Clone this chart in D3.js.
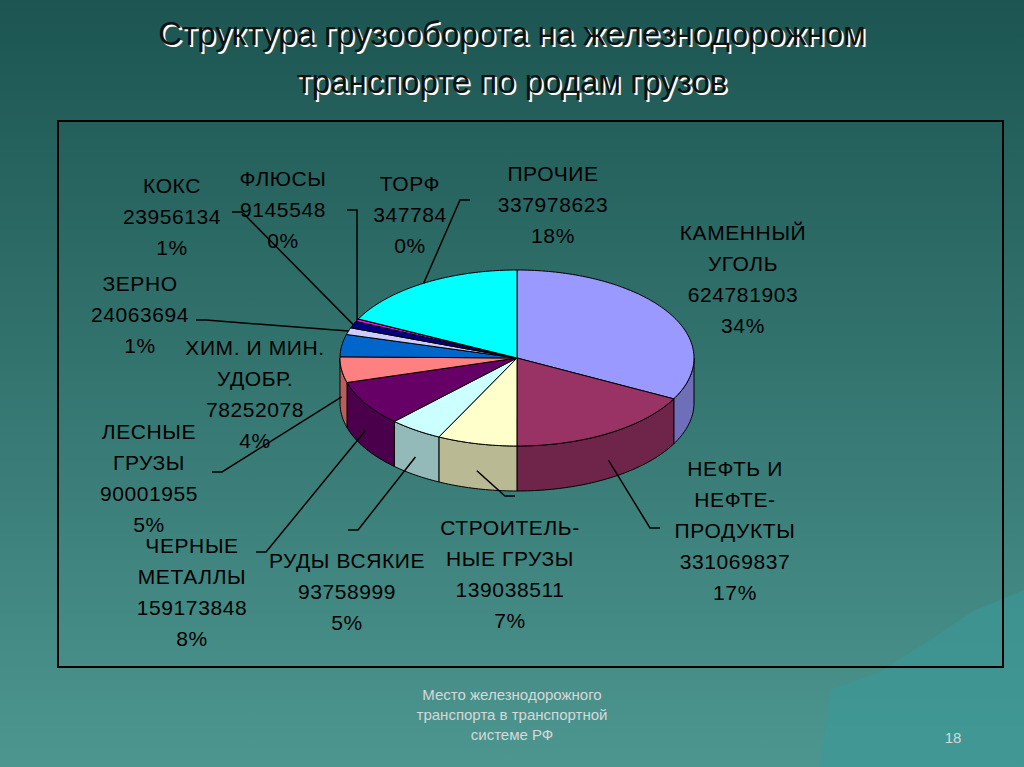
<!DOCTYPE html><html><head><meta charset="utf-8"><script src="https://cdn.jsdelivr.net/npm/d3@7"></script>
<style>body{margin:0;overflow:hidden}</style></head><body><svg id="c" width="1024" height="767"></svg><script>
const categories=["КАМЕННЫЙ УГОЛЬ","НЕФТЬ И НЕФТЕ-ПРОДУКТЫ","СТРОИТЕЛЬ-НЫЕ ГРУЗЫ","РУДЫ ВСЯКИЕ","ЧЕРНЫЕ МЕТАЛЛЫ","ЛЕСНЫЕ ГРУЗЫ","ХИМ. И МИН. УДОБР.","ЗЕРНО","КОКС","ФЛЮСЫ","ТОРФ","ПРОЧИЕ"];
const values=[624781903,331069837,139038511,93758999,159173848,90001955,78252078,24063694,23956134,9145548,347784,337978623];
const percents=["34%","17%","7%","5%","8%","5%","4%","1%","1%","0%","0%","18%"];
const labelLines=[["КАМЕННЫЙ","УГОЛЬ"],["НЕФТЬ И","НЕФТЕ-","ПРОДУКТЫ"],["СТРОИТЕЛЬ-","НЫЕ ГРУЗЫ"],["РУДЫ ВСЯКИЕ"],["ЧЕРНЫЕ","МЕТАЛЛЫ"],["ЛЕСНЫЕ","ГРУЗЫ"],["ХИМ. И МИН.","УДОБР."],["ЗЕРНО"],["КОКС"],["ФЛЮСЫ"],["ТОРФ"],["ПРОЧИЕ"]];
const colors=["#9999ff","#993366","#ffffcc","#ccffff","#660066","#ff8080","#0066cc","#ccccff","#000080","#ff00ff","#ffff00","#00ffff"];
const layout=[[743,240,null],[735,476,[660,528]],[510,535,[515,496]],[347,568,[348,530]],[192,553,[256,552]],[149,439,[212,472]],[255,355,null],[140,291,[196,320]],[172,193,[232,212]],[283,186,[347,210]],[410,191,null],[553,181,[470,200]]];
const svg=d3.select("#c");
const defs=svg.append("defs");
const g=defs.append("linearGradient").attr("id","bg").attr("x1",0).attr("y1",0).attr("x2",0).attr("y2",1);
g.append("stop").attr("offset","0").attr("stop-color","#1c5551");
g.append("stop").attr("offset","1").attr("stop-color","#4d9690");
svg.append("rect").attr("width",1024).attr("height",767).attr("fill","url(#bg)");
svg.append("path").attr("d","M820,767 L830,690 L880,672 L930,640 L975,610 L1000,600 L1024,590 L1024,767Z").attr("fill","#3a9a98").attr("opacity",0.6);
[["Структура грузооборота на железнодорожном",45],["транспорте по родам грузов",93]].forEach(([t,y])=>{
  svg.append("text").attr("x",514).attr("y",y+2).attr("text-anchor","middle").attr("fill","#fff").attr("font-family","Liberation Sans").attr("font-size",33).text(t);
  svg.append("text").attr("x",512).attr("y",y).attr("text-anchor","middle").attr("fill","#111").attr("font-family","Liberation Sans").attr("font-size",33).text(t);
});
svg.append("rect").attr("x",58).attr("y",121).attr("width",945).attr("height",546).attr("fill","none").attr("stroke","#000").attr("stroke-width",2);
const cx=517,cy=358,rx=177,ry=88,depth=45;
const pie=d3.pie().sort(null).value(d=>d)(values);
const P=(a,dy=0)=>[cx+rx*Math.sin(a),cy-ry*Math.cos(a)+dy];
function arcPts(a0,a1,dy){const n=Math.max(2,Math.ceil((a1-a0)/0.02));return d3.range(n+1).map(i=>P(a0+(a1-a0)*i/n,dy));}
const line=d3.line();
const sides=svg.append("g"),tops=svg.append("g");
pie.forEach((p,i)=>{
  const dark=d3.color(colors[i]).darker(0.9);
  const s=Math.max(p.startAngle,Math.PI/2),e=Math.min(p.endAngle,3*Math.PI/2);
  if(e>s){const top=arcPts(s,e,0),bot=arcPts(s,e,depth).reverse();
    sides.append("path").attr("d",line(top.concat(bot))+"Z").attr("fill",dark).attr("stroke","#000").attr("stroke-width",1);}
  const pts=[[cx,cy]].concat(arcPts(p.startAngle,p.endAngle,0));
  tops.append("path").attr("d",line(pts)+"Z").attr("fill",colors[i]).attr("stroke","#000").attr("stroke-width",1);
});
const lab=svg.append("g").attr("font-family","Liberation Sans").attr("font-size",21).attr("fill","#000").attr("text-anchor","middle").attr("letter-spacing",0.6);
pie.forEach((p,i)=>{
  const [x,y0,ls]=layout[i];
  const lines=labelLines[i].concat([String(values[i]),percents[i]]);
  lines.forEach((t,k)=>lab.append("text").attr("x",x).attr("y",y0+k*31).text(t));
  if(ls){const m=(p.startAngle+p.endAngle)/2;const front=Math.cos(m)<0;
    const e=P(m,front?depth*0.6:0);
    svg.append("polyline").attr("points",[ls,[ls[0]+(e[0]>ls[0]?10:-10),ls[1]],e].map(q=>q.join(",")).join(" ")).attr("fill","none").attr("stroke","#000").attr("stroke-width",1.5);}
});
const ft=svg.append("g").attr("font-family","Liberation Sans").attr("font-size",15).attr("fill","#d8d8d8").attr("text-anchor","middle");
["Место железнодорожного","транспорта в транспортной","системе РФ"].forEach((t,k)=>ft.append("text").attr("x",512).attr("y",700+k*20).text(t));
ft.append("text").attr("x",953).attr("y",743).text("18");
</script></body></html>
